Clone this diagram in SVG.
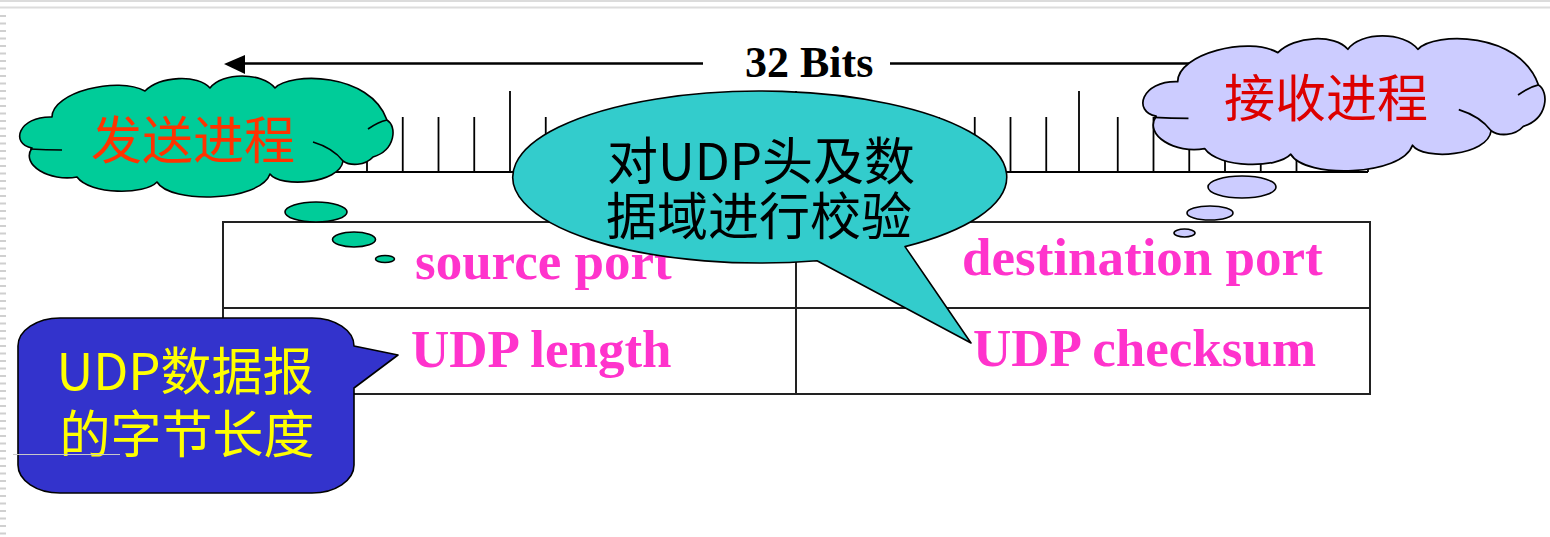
<svg xmlns="http://www.w3.org/2000/svg" width="1550" height="537" viewBox="0 0 1550 537">
  <style>
    .outline { stroke: #000; stroke-width: 1.6; stroke-linejoin: round; }
    .cell { fill: none; stroke: #222; stroke-width: 2; }
    .field { font-family: "Liberation Serif", "Times New Roman", serif; font-weight: bold; font-size: 53px; fill: #FF33CC; }
    .cjk { font-family: "Noto Sans CJK SC", "Noto Sans", sans-serif; font-size: 51px; text-anchor: middle; }
    .tick { stroke: #000; stroke-width: 1.8; fill: none; }
  </style>
  <defs>
    <!-- puffy cloud outline, drawn once and reused -->
    <path id="cloud" d="M32,148 C10,144 18,116 52,117 C52,92 118,76 145,91 C160,76 198,74 210,88 C222,72 262,72 275,88 C290,72 370,72 387,120 C397,126 396,150 373,157 C365,166 350,166 343,161 C340,184 280,188 270,174 C260,202 170,204 157,182 C145,195 90,195 77,177 C50,182 20,165 32,148 Z"/>
    <path id="cloudInner" d="M313,142 Q333,148 343,161 M368,129 Q378,122 387,120 M30,149 Q46,150 62,150"/>
  </defs>

  <!-- page frame -->
  <g id="frame">
    <rect width="1550" height="537" fill="#fff"/>
    <line x1="0" y1="1" x2="1550" y2="1" stroke="#dcdcdc" stroke-width="2"/>
    <line x1="0" y1="7.5" x2="1550" y2="7.5" stroke="#dcdcdc" stroke-width="2"/>
    <line x1="3" y1="15" x2="3" y2="537" stroke="#d0d0d0" stroke-width="6" stroke-dasharray="2 5.5"/>
  </g>

  <!-- 32-bit ruler -->
  <g id="ruler">
    <line x1="224" y1="172" x2="1368" y2="172" class="tick"/>
    <path class="tick" d="M224,91V172 M259.75,117V172 M295.5,117V172 M331.25,117V172 M367,117V172 M402.75,117V172 M438.5,117V172 M474.25,117V172 M510,91V172 M545.75,117V172 M581.5,117V172 M617.25,117V172 M653,117V172 M688.75,117V172 M724.5,117V172 M760.25,117V172 M796,91V172 M831.75,117V172 M867.5,117V172 M903.25,117V172 M939,117V172 M974.75,117V172 M1010.5,117V172 M1046.25,117V172 M1079,91V172 M1117.75,117V172 M1153.5,117V172 M1189.25,117V172 M1225,117V172 M1260.75,117V172 M1296.5,117V172 M1332.25,117V172 M1368,91V172"/>
  </g>

  <!-- width dimension arrow -->
  <g id="connectors">
    <line x1="243" y1="63.5" x2="703" y2="63.5" stroke="#000" stroke-width="2.6"/>
    <polygon points="224,64 245,55 245,74" fill="#000"/>
    <line x1="890" y1="63.5" x2="1350" y2="63.5" stroke="#000" stroke-width="2.6"/>
    <polygon points="1370,64 1349,55 1349,74" fill="#000"/>
  </g>
  <g id="width-label">
    <text x="745" y="77" font-family="Liberation Serif, Times New Roman, serif" font-weight="bold" font-size="44" fill="#000">32 Bits</text>
  </g>

  <!-- UDP header table -->
  <g id="udp-header">
    <rect class="cell" x="223" y="222" width="1147" height="172"/>
    <line class="cell" x1="223" y1="308" x2="1370" y2="308"/>
    <line class="cell" x1="796" y1="222" x2="796" y2="394"/>
  </g>
  <g id="field-source-port"><text class="field" x="415" y="279">source port</text></g>
  <g id="field-destination-port"><text class="field" x="962" y="275">destination port</text></g>
  <g id="field-length"><text class="field" x="411" y="367">UDP length</text></g>
  <g id="field-checksum"><text class="field" x="973" y="366">UDP checksum</text></g>

  <!-- sending process cloud -->
  <g id="sender">
    <use href="#cloud" fill="#00CC99" class="outline"/>
    <use href="#cloudInner" fill="none" class="outline"/>
    <text class="cjk" x="193" y="159" fill="#FF3300">发送进程</text>
    <ellipse cx="316" cy="212" rx="31" ry="10" fill="#00CC99" class="outline"/>
    <ellipse cx="354" cy="239.5" rx="21.5" ry="7.5" fill="#00CC99" class="outline"/>
    <ellipse cx="385" cy="259" rx="9.5" ry="3.5" fill="#00CC99" class="outline"/>
  </g>

  <!-- receiving process cloud -->
  <g id="receiver">
    <g transform="translate(1140,37) scale(1.077,1.116) translate(-17,-77)">
      <use href="#cloud" fill="#CCCCFF" class="outline"/>
      <use href="#cloudInner" fill="none" class="outline"/>
    </g>
    <text class="cjk" x="1326" y="117" fill="#DD0000">接收进程</text>
    <ellipse cx="1242" cy="187" rx="34" ry="11" fill="#CCCCFF" class="outline"/>
    <ellipse cx="1210" cy="213" rx="23" ry="7" fill="#CCCCFF" class="outline"/>
    <ellipse cx="1184.5" cy="233" rx="10.5" ry="4" fill="#CCCCFF" class="outline"/>
  </g>

  <!-- checksum callout -->
  <g id="checksum-note">
    <path d="M905,246.6 L971,343 L817,260.7 A247,86 0 1 1 905,246.6 Z" fill="#33CCCC" class="outline"/>
    <text class="cjk" fill="#000"><tspan x="761" y="180">对UDP头及数</tspan><tspan x="759" y="235">据域进行校验</tspan></text>
  </g>

  <!-- length callout -->
  <g id="length-note">
    <path d="M60,318 H312 A42,28 0 0 1 354,346 L398,355 L354,388 V465 A42,28 0 0 1 312,493 H60 A42,28 0 0 1 18,465 V346 A42,28 0 0 1 60,318 Z" fill="#3333CC" class="outline"/>
    <text class="cjk" fill="#FFFF00"><tspan x="185" y="390">UDP数据报</tspan><tspan x="187" y="453">的字节长度</tspan></text>
    <line x1="13" y1="454.5" x2="120" y2="454.5" stroke="#c8c8c8" stroke-width="1.2"/>
  </g>
</svg>
